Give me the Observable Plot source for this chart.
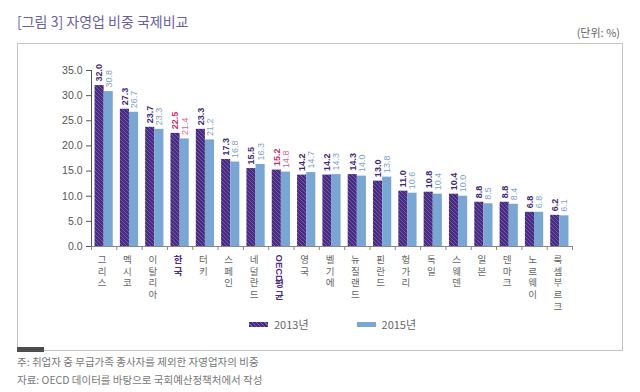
<!DOCTYPE html>
<html>
<head>
<meta charset="utf-8">
<script src="https://cdn.jsdelivr.net/npm/d3@7"></script>
<script src="https://cdn.jsdelivr.net/npm/@observablehq/plot@0.6"></script>
<style>
  body { margin: 0; background: #fff; }
  #wrap { position: relative; width: 640px; height: 392px; overflow: hidden; font-family: "Noto Sans CJK KR", "Noto Sans", sans-serif; }
  #title { position: absolute; left: 17px; top: 10px; font-size: 14px; line-height: 22px; color: #6b5e9c; }
  #unit { position: absolute; right: 20px; top: 25px; font-size: 11px; line-height: 14px; color: #666; }
  #chart { position: absolute; left: 0; top: 43px; }
  #box { position: absolute; left: 17px; top: 43px; width: 606px; height: 308px; border: 1px solid #c4c4c4; box-sizing: border-box; }
  #boxmark { position: absolute; left: 17px; top: 347px; width: 27px; height: 5px; background: #4d4d4d; }
  #legend { position: absolute; left: 249px; top: 316px; display: flex; align-items: center; font-size: 11px; color: #666; line-height: 16px; font-family: "Liberation Sans Narrow", "Noto Sans CJK KR", sans-serif; }
  .item { display: flex; align-items: center; margin-right: 48px; }
  .sw { width: 19px; height: 5px; margin-right: 6px; }
  #notes { position: absolute; left: 17px; top: 353px; font-size: 10.5px; line-height: 18px; color: #777; }
</style>
</head>
<body>
<div id="wrap">
  <div id="title">[그림 3] 자영업 비중 국제비교</div>
  <div id="unit">(단위: %)</div>
  <div id="chart"></div>
  <div id="box"></div>
  <div id="boxmark"></div>
  <div id="legend"></div>
  <div id="notes">
    <div>주: 취업자 중 무급가족 종사자를 제외한 자영업자의 비중</div>
    <div>자료: OECD 데이터를 바탕으로 국회예산정책처에서 작성</div>
  </div>
</div>
<script>
const countries = ["그리스","멕시코","이탈리아","한국","터키","스페인","네덜란드","OECD 평균","영국","벨기에","뉴질랜드","핀란드","헝가리","독일","스웨덴","일본","덴마크","노르웨이","룩셈부르크"];
const v2013 = [32.0,27.3,23.7,22.5,23.3,17.3,15.5,15.2,14.2,14.2,14.3,13.0,11.0,10.8,10.4,8.8,8.8,6.8,6.2];
const v2015 = [30.8,26.7,23.3,21.4,21.2,16.8,16.3,14.8,14.7,14.3,14.0,13.8,10.6,10.4,10.0,8.5,8.4,6.8,6.1];
const highlighted = ["한국","OECD 평균"];
const yTicks = [0,5,10,15,20,25,30,35];
const seriesNames = ["2013년","2015년"];

const C2013 = "#482b80", C2013stripe = "#7763ae", C2015 = "#7aa6d3";

const W = 640, H = 275, mL = 91, mR = 68, mT = 27, mB = 72, pI = 0.28, pO = 0.14;
const band = d3.scaleBand().domain(countries).range([mL, W - mR]).paddingInner(pI).paddingOuter(pO).align(0.5);
const bw = band.bandwidth(), step = band.step();

const rows = countries.map((c, i) => ({country: c, v2013: v2013[i], v2015: v2015[i], hi: highlighted.includes(c)}));
const normal = rows.filter(d => !d.hi), hi = rows.filter(d => d.hi);

// split each label into an optional Latin prefix (drawn rotated) and Korean part (stacked vertically)
const labels = countries.map(c => {
  const m = c.match(/^([A-Za-z]+)\s+(.*)$/);
  return {country: c, latin: m ? m[1] : null, kr: m ? m[2] : c, hi: highlighted.includes(c)};
});

const numFont = "'Liberation Sans Narrow', 'Liberation Sans', sans-serif";
const krFont = "'Noto Sans CJK KR', sans-serif";
const labFS = 9.5, labLH = 11.8 / 9.5, latinLen = 24;

function valueLabels(data, key, opts) {
  return Plot.text(data, Object.assign({
    x: "country", y: key, text: d => d[key].toFixed(1), rotate: -90,
    textAnchor: "start", dy: -4, fontSize: 9, fontFamily: numFont
  }, opts));
}
function krLabels(data, opts) {
  return Plot.text(data, Object.assign({
    x: "country", y: () => 0, text: d => Array.from(d.kr).filter(ch => ch !== " ").join("\n"),
    textAnchor: "middle", lineAnchor: "top", lineHeight: labLH, fontSize: labFS, fontFamily: krFont, dx: -2
  }, opts));
}

const svg = Plot.plot({
  width: W, height: H,
  marginLeft: mL, marginRight: mR, marginTop: mT, marginBottom: mB,
  style: {background: "transparent", fontFamily: "'Liberation Sans', sans-serif", fontSize: "10.5px", color: "#555"},
  x: {domain: countries, paddingInner: pI, paddingOuter: pO, align: 0.5, round: false, axis: null},
  y: {domain: [0, 35], ticks: yTicks, tickFormat: d => d.toFixed(1), tickSize: 5, tickPadding: 4, line: true, label: null},
  marks: [
    Plot.barY(rows, {x: "country", y: "v2013", fill: "url(#hatch2013)", insetRight: bw / 2}),
    Plot.barY(rows, {x: "country", y: "v2015", fill: C2015, insetLeft: bw / 2}),
    Plot.ruleY([0], {stroke: "#888"}),
    Plot.ruleX(countries, {x: d => d, y1: 0, y2: -0.8, dx: -step / 2, stroke: "#888"}),
    Plot.ruleX(countries.slice(-1), {x: d => d, y1: 0, y2: -0.8, dx: step / 2, stroke: "#888"}),
    valueLabels(normal, "v2013", {dx: -bw / 4, fill: "#3d2870", fontWeight: "bold"}),
    valueLabels(normal, "v2015", {dx: bw / 4, fill: "#7f9fc9"}),
    valueLabels(hi, "v2013", {dx: -bw / 4, fill: "#c0306c", fontWeight: "bold"}),
    valueLabels(hi, "v2015", {dx: bw / 4, fill: "#cf6a98"}),
    // country labels: plain ones
    krLabels(labels.filter(d => !d.hi), {dy: 8, fill: "#666"}),
    // highlighted ones with no Latin prefix
    krLabels(labels.filter(d => d.hi && !d.latin), {dy: 8, fill: "#4b2e83", fontWeight: "bold"}),
    // Latin prefix, rotated to read downward
    Plot.text(labels.filter(d => d.latin), {
      x: "country", y: () => 0, text: "latin", rotate: 90, textAnchor: "start", lineAnchor: "middle",
      dy: 8, dx: -2, fontSize: labFS, fontWeight: "bold", fontFamily: numFont,
      fill: d => d.hi ? "#4b2e83" : "#666"
    }),
    // Korean part after the Latin prefix
    krLabels(labels.filter(d => d.latin), {dy: 8 + latinLen, fill: "#4b2e83", fontWeight: "bold"})
  ]
});

// hatch pattern for 2013 bars
const defs = d3.select(svg).insert("defs", ":first-child");
const pat = defs.append("pattern").attr("id", "hatch2013").attr("patternUnits", "userSpaceOnUse").attr("width", 4).attr("height", 4);
pat.append("rect").attr("width", 4).attr("height", 4).attr("fill", C2013);
pat.append("path").attr("d", "M0,0L4,4M-1,3L1,5M3,-1L5,1").attr("stroke", C2013stripe).attr("stroke-width", 0.9);

document.getElementById("chart").appendChild(svg);

// legend
const legend = d3.select("#legend");
const swatchBg = [
  `repeating-linear-gradient(45deg, ${C2013} 0px, ${C2013} 2px, ${C2013stripe} 2px, ${C2013stripe} 3px)`,
  C2015
];
seriesNames.forEach((name, i) => {
  const it = legend.append("div").attr("class", "item");
  it.append("div").attr("class", "sw").style("background", swatchBg[i]);
  it.append("span").text(name);
});
</script>
</body>
</html>
